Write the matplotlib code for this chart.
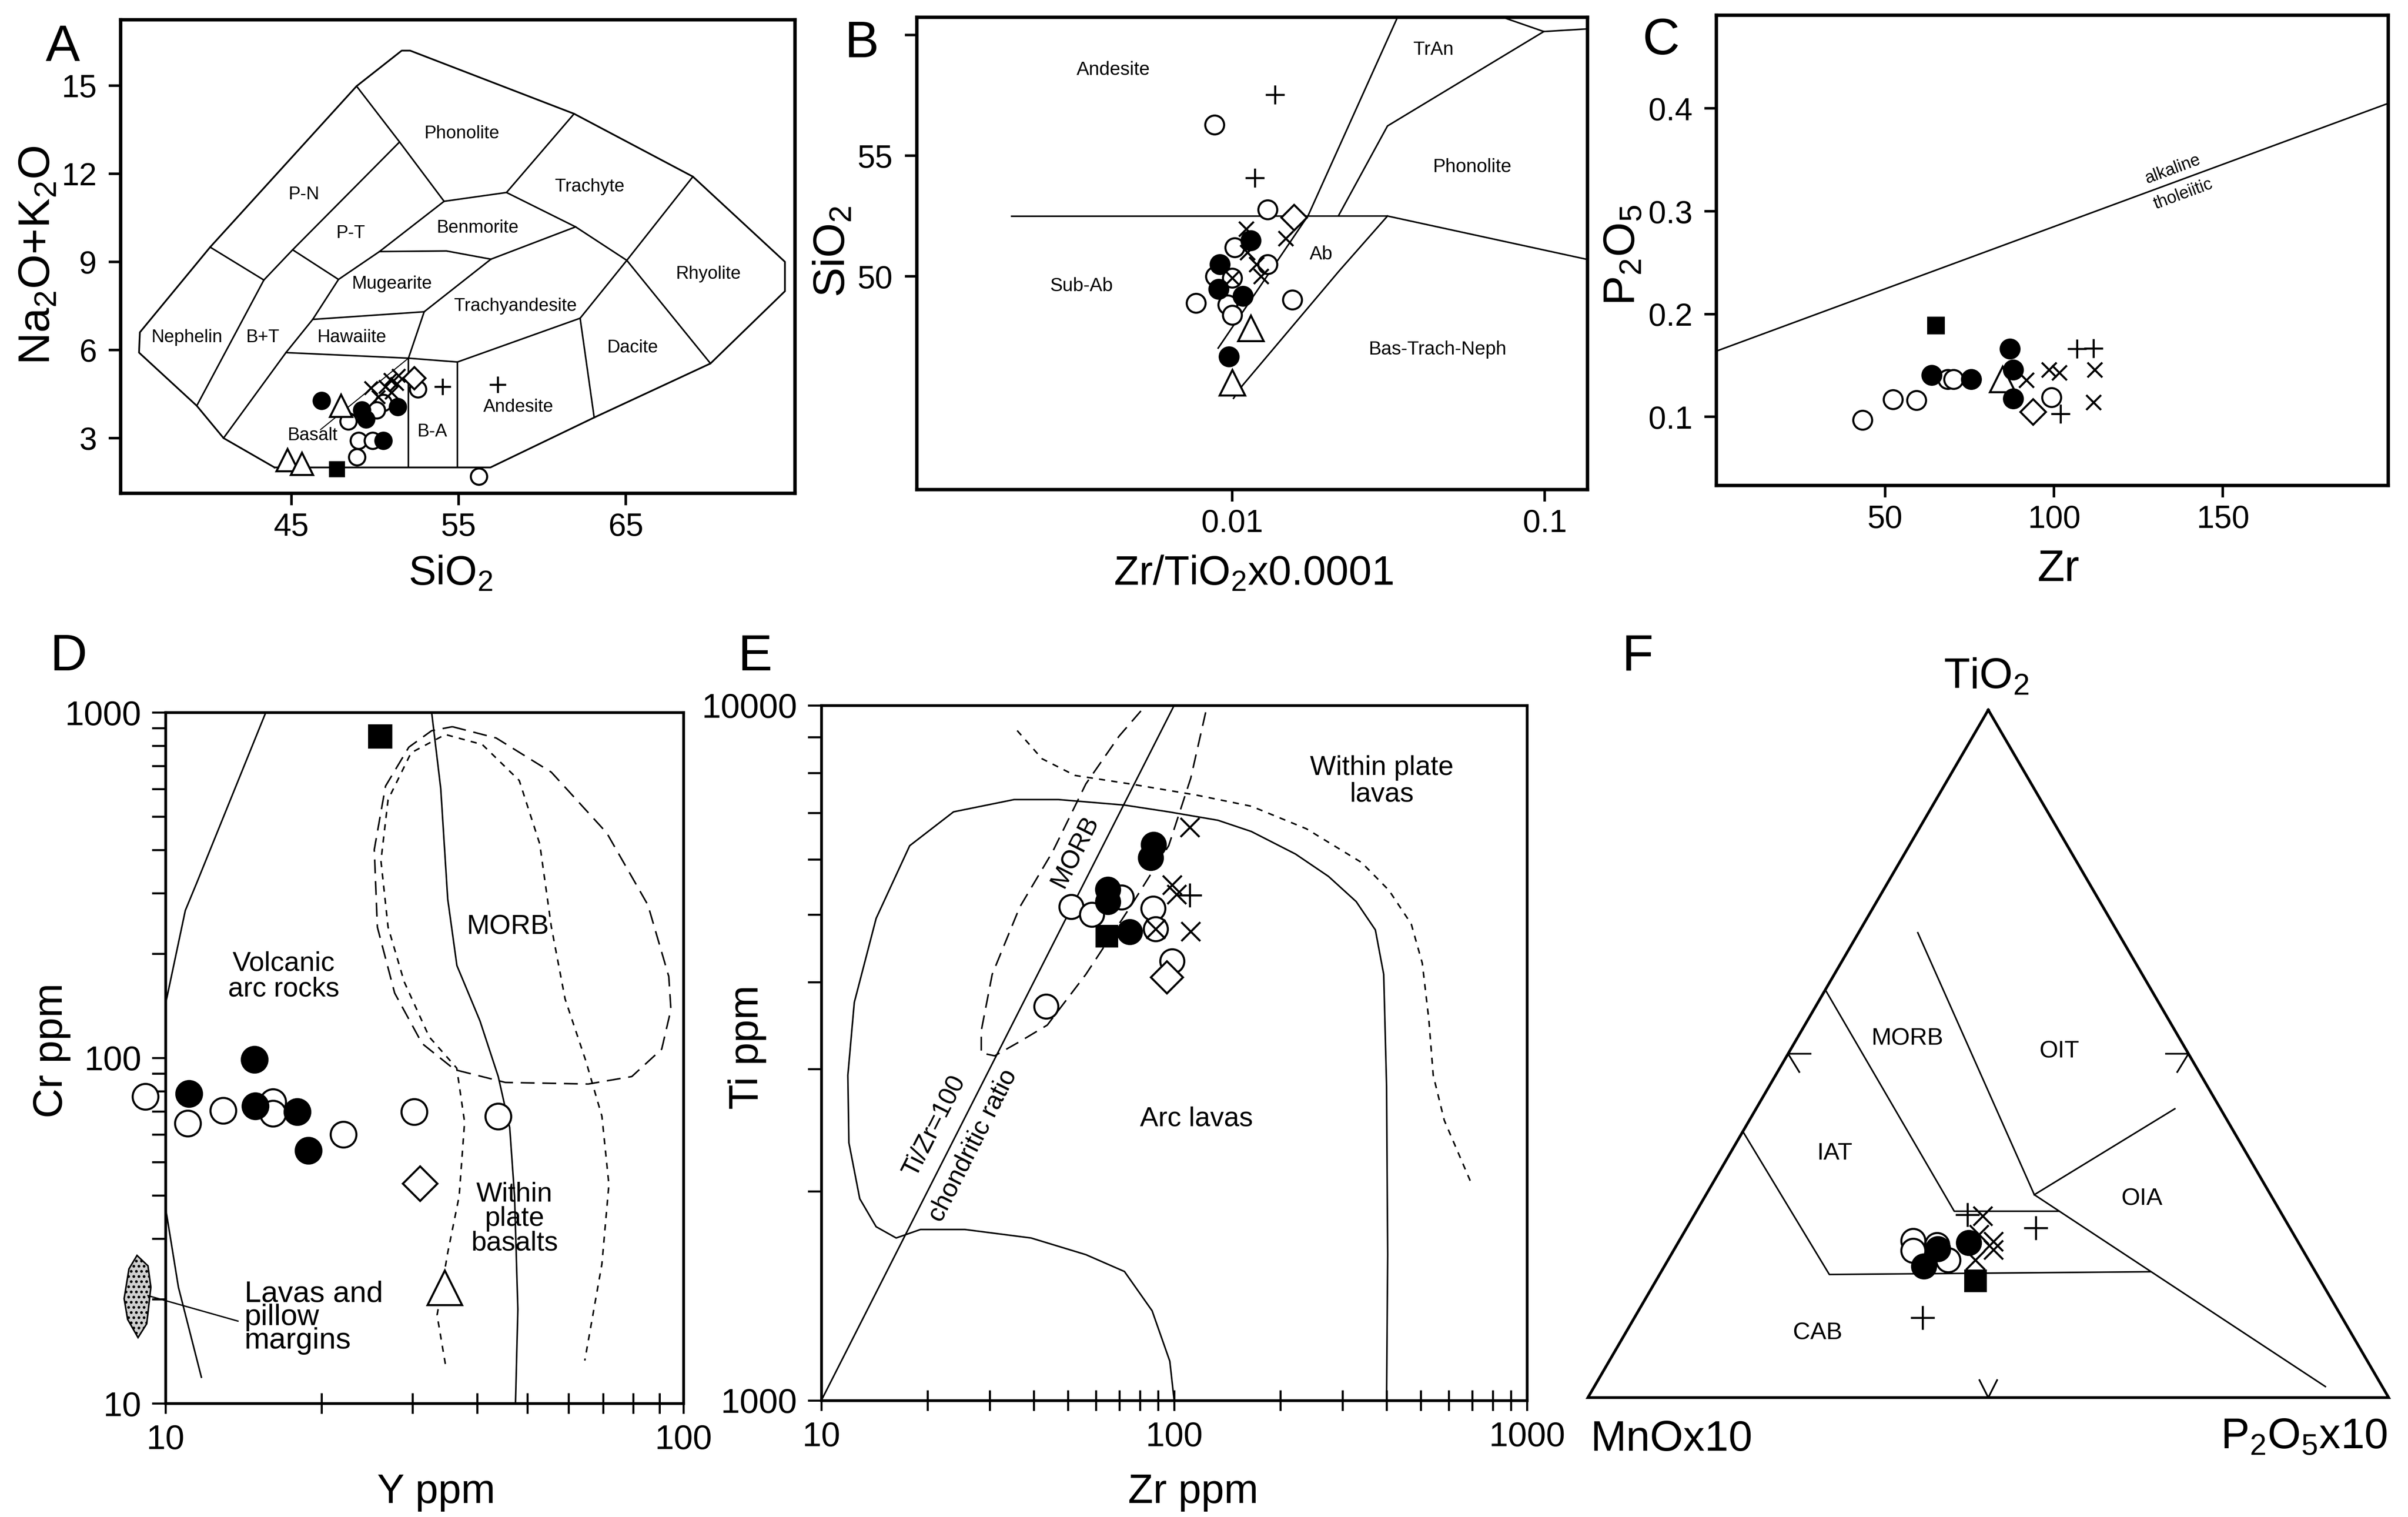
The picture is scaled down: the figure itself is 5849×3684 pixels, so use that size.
import numpy as np
import matplotlib
matplotlib.use('Agg')
import matplotlib.pyplot as plt
from matplotlib.patches import Polygon

plt.rcParams['font.family'] = ['Liberation Sans', 'DejaVu Sans']
plt.rcParams['mathtext.fontset'] = 'custom'
plt.rcParams['mathtext.rm'] = 'Liberation Sans'
plt.rcParams['mathtext.it'] = 'Liberation Sans:italic'
plt.rcParams['mathtext.bf'] = 'Liberation Sans:bold'
plt.rcParams['axes.linewidth'] = 1.6

NARROW = ['Liberation Sans Narrow', 'Liberation Sans']
W, H, DPI = 5849, 3684, 300

# ---------------- A : TAS (SiO2 vs Na2O+K2O) ----------------
a_outline = [(44.0, 2.0), (56.9, 2.0), (63.1, 3.7), (70.05, 5.54), (74.5, 8.0), (74.5, 9.0),
             (69.0, 11.9), (61.9, 14.04), (52.1, 16.19), (51.6, 16.19), (48.9, 14.98),
             (40.15, 9.5), (35.95, 6.6), (35.9, 5.91), (39.35, 4.1), (40.95, 3.0), (44.0, 2.0)]
a_bounds = [
    [(40.15, 9.5), (43.36, 8.38)],
    [(43.36, 8.38), (39.35, 4.1)],
    [(43.36, 8.38), (45.08, 9.41), (51.47, 13.08)],
    [(48.9, 14.98), (51.47, 13.08), (54.13, 11.06)],
    [(45.08, 9.41), (47.82, 8.40), (50.27, 9.35), (54.13, 11.06)],
    [(50.27, 9.35), (54.27, 9.37), (56.93, 9.09)],
    [(54.13, 11.06), (57.86, 11.36), (61.9, 14.04)],
    [(57.86, 11.36), (61.99, 10.19), (65.05, 9.05)],
    [(61.99, 10.19), (56.93, 9.09), (52.94, 7.30), (52.0, 5.72)],
    [(46.28, 7.04), (52.94, 7.30)],
    [(47.82, 8.40), (46.28, 7.04), (44.68, 5.91), (40.95, 3.0)],
    [(44.68, 5.91), (52.0, 5.72), (54.93, 5.59), (62.26, 7.08), (65.05, 9.05), (69.0, 11.9)],
    [(52.0, 5.72), (52.0, 2.0)],
    [(54.93, 5.59), (54.93, 2.0)],
    [(62.26, 7.08), (63.1, 3.7)],
    [(65.05, 9.05), (70.05, 5.54)],
]
a_divide = [(46.75, 3.29), (52.0, 5.72)]
a_fields = ['Phonolite', 'P-N', 'Trachyte', 'P-T', 'Benmorite', 'Rhyolite', 'Mugearite',
            'Trachyandesite', 'Nephelin', 'B+T', 'Hawaiite', 'Dacite', 'Andesite', 'B-A', 'Basalt']
a_field_x = [55.2, 45.75, 62.84, 48.54, 56.13, 69.93, 51.02, 58.4, 38.77, 43.3, 48.62, 65.4, 58.58, 53.42, 46.28]
a_field_y = [13.36, 11.29, 11.55, 9.97, 10.15, 8.59, 8.25, 7.49, 6.43, 6.43, 6.43, 6.08, 4.06, 3.22, 3.09]

a_open_x = [48.40, 49.03, 48.93, 49.85, 56.21, 52.57, 50.5, 50.1]
a_open_y = [3.57, 2.91, 2.35, 2.91, 1.69, 4.66, 4.2, 3.95]
a_filled_x = [46.8, 49.22, 49.47, 51.36, 50.49]
a_filled_y = [4.28, 3.95, 3.64, 4.07, 2.91]
a_tri_x = [47.96, 44.76, 45.63]
a_tri_y = [4.11, 2.25, 2.13]
a_square_x = [47.72]
a_square_y = [1.95]
a_diamond_x = [52.33]
a_diamond_y = [5.04]
a_plus_x = [54.03, 57.33]
a_plus_y = [4.75, 4.82]
a_cross_x = [49.76, 50.63, 50.92, 51.31, 51.41, 50.2, 51.0]
a_cross_y = [4.71, 4.75, 4.99, 4.85, 5.13, 4.4, 4.55]

# ---------------- B : Zr/TiO2 vs SiO2 ----------------
b_bounds = [
    [(0.00197, 52.49), (0.0314, 52.5), (0.137, 50.7)],
    [(0.00902, 47.03), (0.0175, 52.52), (0.0338, 60.73)],
    [(0.0101, 44.95), (0.0108, 45.49), (0.022, 50.23), (0.0314, 52.5)],
    [(0.0219, 52.52), (0.0314, 56.23), (0.0993, 60.14)],
    [(0.0734, 60.73), (0.0993, 60.14), (0.137, 60.25)],
]
b_fields = ['Andesite', 'TrAn', 'Phonolite', 'Ab', 'Sub-Ab', 'Bas-Trach-Neph']
b_field_x = [0.00417, 0.0441, 0.0585, 0.01923, 0.0033, 0.0454]
b_field_y = [58.55, 59.38, 54.53, 50.9, 49.6, 46.96]

b_open_x = [0.00877, 0.01297, 0.01018, 0.01297, 0.00884, 0.00766, 0.00968, 0.01, 0.01556, 0.01]
b_open_y = [56.28, 52.76, 51.2, 50.5, 50.0, 48.9, 48.83, 48.4, 49.04, 49.94]
b_filled_x = [0.01146, 0.00912, 0.00906, 0.01082, 0.00977]
b_filled_y = [51.48, 50.5, 49.47, 49.18, 46.68]
b_tri_x = [0.01148, 0.01]
b_tri_y = [47.86, 45.6]
b_diamond_x = [0.01574]
b_diamond_y = [52.45]
b_plus_x = [0.0118, 0.01371]
b_plus_y = [54.08, 57.53]
b_cross_x = [0.01483, 0.0111, 0.01197, 0.01235, 0.0112, 0.01]
b_cross_y = [51.58, 51.96, 50.5, 50.01, 51.0, 49.94]

# ---------------- C : Zr vs P2O5 ----------------
c_line_x = [0, 199]
c_line_y = [0.164, 0.405]
c_open_x = [68.5, 70.2, 52.3, 59.3, 43.3, 99.3]
c_open_y = [0.1365, 0.1365, 0.117, 0.1163, 0.0968, 0.119]
c_filled_x = [63.77, 75.5, 87.0, 87.9, 87.9]
c_filled_y = [0.1405, 0.1365, 0.1661, 0.1459, 0.1177]
c_square_x = [65.05]
c_square_y = [0.1892]
c_tri_x = [84.8]
c_tri_y = [0.1365]
c_diamond_x = [93.8]
c_diamond_y = [0.1049]
c_plus_x = [106.8, 111.7, 101.9]
c_plus_y = [0.1661, 0.1667, 0.1028]
c_cross_x = [91.8, 98.5, 101.6, 112.0, 111.7]
c_cross_y = [0.1358, 0.1459, 0.1432, 0.1459, 0.1143]

# ---------------- D : Y vs Cr ----------------
d_vab_upper = [(15.62, 1000), (11.49, 321), (10.92, 267), (10.0, 143)]
d_vab_lower = [(10.0, 36.9), (10.59, 21.7), (11.73, 11.9)]
d_morb_wpb = [(32.65, 1000), (34.0, 601), (35.07, 288), (36.53, 185), (40.47, 128), (43.9, 88.3),
              (46.2, 62.8), (47.2, 39.8), (47.9, 18.7), (47.4, 10)]
d_wpb_dash = [(34.7, 13.0), (33.45, 18.0), (35.07, 27.3), (36.9, 39.8), (37.8, 65.2), (36.5, 93.4),
              (32.3, 115), (28.9, 166), (26.9, 239), (26.06, 372), (26.9, 559), (29.8, 764),
              (34.7, 863), (40.9, 807), (48.2, 635), (52.8, 416), (55.6, 239), (59.1, 148),
              (64.8, 98), (69.6, 67.8), (71.8, 43.0), (69.6, 25.3), (64.5, 13.3)]
d_morb_dash = [(35.8, 909), (43.5, 843), (55.6, 671), (71.1, 448), (85.4, 277), (93.7, 172),
               (94.6, 138), (90.8, 106), (79.5, 88.3), (65.5, 84.0), (45.3, 84.9), (36.2, 92.4),
               (31.3, 110), (27.7, 154), (25.65, 239), (25.3, 401), (26.6, 612), (29.5, 793),
               (32.65, 885), (35.8, 909)]
d_blob_y = [8.81, 9.25, 9.37, 9.2, 8.85, 8.45, 8.32, 8.5]
d_blob_cr = [26.8, 25.0, 21.7, 17.0, 15.5, 17.5, 20.1, 24.5]

d_open_x = [9.14, 11.03, 12.91, 16.11, 16.11, 22.03, 30.2, 43.9]
d_open_y = [77.3, 64.7, 70.3, 74.5, 69.0, 60.0, 69.8, 67.8]
d_filled_x = [14.85, 11.1, 14.9, 17.96, 18.86]
d_filled_y = [98.9, 78.8, 72.5, 69.8, 54.0]
d_square_x = [25.96]
d_square_y = [853]
d_diamond_x = [31.0]
d_diamond_y = [43.3]
d_tri_x = [34.6]
d_tri_y = [21.6]

# ---------------- E : Zr vs Ti ----------------
e_ratio_zr = [10, 100]
e_arc = [(100, 1000), (97.2, 1139), (86.6, 1346), (72.3, 1533), (56.2, 1621), (39.3, 1713),
         (25.5, 1762), (19.1, 1762), (16.3, 1713), (14.3, 1778), (12.85, 1951), (11.97, 2349),
         (11.89, 2937), (12.4, 3738), (14.3, 4938), (17.8, 6282), (23.7, 7028), (35.2, 7320),
         (47.0, 7320), (72.3, 7187), (96.5, 7028), (133, 6835), (165.5, 6585), (220.8, 6111),
         (273.8, 5675), (328, 5221), (371.8, 4753), (392.6, 4102), (400, 2829), (402.9, 1621),
         (400, 1000)]
e_wpl_dash = [(35.9, 9199), (42.2, 8381), (52.3, 7930), (75.0, 7709), (115.5, 7430), (165.5, 7160),
              (237, 6645), (339.8, 5942), (406.4, 5418), (469.9, 4847), (505, 4257), (527, 3533),
              (542.4, 2936), (583, 2529), (698, 2044)]
e_morb_dash = [(80.5, 9817), (69.8, 9030), (56.2, 7709), (45.3, 6166), (36.5, 5125), (30.5, 4102),
               (28.4, 3404), (28.4, 3162), (31.0, 3132), (36.5, 3283), (43.7, 3468), (56.2, 4102),
               (75.0, 5125), (96.5, 6282), (111.4, 7852), (124.1, 10000)]

e_open_x = [51.1, 58.5, 70.9, 87.1, 88.7, 98.6, 43.4]
e_open_y = [5130, 4998, 5294, 5107, 4765, 4285, 3690]
e_filled_x = [87.5, 85.9, 64.8, 64.8, 74.9]
e_filled_y = [6310, 6033, 5432, 5219, 4721]
e_square_x = [64.4]
e_square_y = [4656]
e_diamond_x = [95.4]
e_diamond_y = [4064]
e_cross_x = [110.7, 98.6, 101.5, 111.2, 88.7]
e_cross_y = [6677, 5520, 5350, 4730, 4765]
e_plus_x = [110.7]
e_plus_y = [5333]

# ---------------- F : TiO2 - MnOx10 - P2O5x10 (T, M, P) ----------------
f_bounds = [
    [(38.7, 61.3, 0.0), (17.9, 60.9, 21.2), (18.3, 20.6, 61.1)],
    [(29.5, 29.5, 41.0), (1.6, 7.1, 91.3)],
    [(59.3, 40.7, 0.0), (27.1, 40.7, 32.2), (27.1, 27.6, 45.3)],
    [(67.6, 25.0, 7.4), (29.5, 29.5, 41.0)],
    [(29.5, 29.5, 41.0), (42.0, 5.7, 52.3)],
]
f_fields = ['MORB', 'OIT', 'IAT', 'OIA', 'CAB']
f_field_tmp = [(52.2, 34.0, 13.8), (50.3, 16.0, 33.7), (35.5, 51.4, 13.1), (28.9, 16.4, 54.7), (9.4, 66.6, 24.0)]

f_open = [(22.8, 48.0, 29.2), (21.4, 48.7, 29.9), (22.2, 45.3, 32.5), (20.0, 45.0, 35.0)]
f_filled = [(21.6, 45.5, 32.9), (22.5, 41.2, 36.3), (19.1, 48.5, 32.4)]
f_square = [(17.0, 43.1, 39.9)]
f_plus = [(26.6, 39.3, 34.1), (24.7, 31.7, 43.6), (11.6, 52.4, 36.0)]
f_cross = [(26.4, 37.5, 36.1), (23.7, 39.3, 37.0), (22.7, 38.0, 39.3), (21.5, 38.6, 39.9), (20.0, 41.6, 38.4)]


STYLE = {
    'open': dict(marker='o', mfc='white', mec='black'),
    'tri': dict(marker='^', mfc='white', mec='black'),
    'diamond': dict(marker='D', mfc='white', mec='black'),
    'filled': dict(marker='o', mfc='black', mec='black'),
    'square': dict(marker='s', mfc='black', mec='black'),
    'cross': dict(marker='x', mfc='none', mec='black'),
    'plus': dict(marker='+', mfc='none', mec='black'),
}
SCALE = {'open': 1.0, 'tri': 1.35, 'diamond': 0.95, 'filled': 1.0, 'square': 0.85, 'cross': 0.8, 'plus': 1.0}
ORDER = ['open', 'tri', 'diamond', 'filled', 'square', 'cross', 'plus']


def box(l, t, r, b):
    return [l / W, 1 - b / H, (r - l) / W, (b - t) / H]


def symbols(ax, groups, ms):
    for i, kind in enumerate(ORDER):
        if kind not in groups:
            continue
        x, y = groups[kind]
        ax.plot(x, y, ls='none', ms=ms * SCALE[kind], mew=1.2, clip_on=False,
                zorder=5 + i, **STYLE[kind])


def polyline(ax, pts, **kw):
    pts = np.array(pts, dtype=float)
    ax.plot(pts[:, 0], pts[:, 1], color='black', **kw)


def screen_angle(ax, p0, p1):
    (x0, y0), (x1, y1) = ax.transData.transform([p0, p1])
    return np.degrees(np.arctan2(y1 - y0, x1 - x0))


def ylabel_at(fig, text, x, y, size):
    fig.text(x / W, 1 - y / H, text, rotation=90, rotation_mode='anchor',
             ha='center', va='baseline', fontsize=size)


def xlabel_at(fig, text, x, y, size, ha='center'):
    fig.text(x / W, 1 - y / H, text, ha=ha, va='baseline', fontsize=size)


def tern(pts):
    pts = np.array(pts, dtype=float)
    s = pts.sum(axis=1)
    t = pts[:, 0] / s
    p = pts[:, 2] / s
    return p + t / 2, t * np.sqrt(3) / 2


fig = plt.figure(figsize=(W / DPI, H / DPI), dpi=DPI)
fig.patch.set_facecolor('white')

TICK = 18.5
TICK2 = 20
LAB = 24

# ---- A ----
ax = fig.add_axes(box(293, 48, 1931, 1198))
ax.set_xlim(34.8, 75.1)
ax.set_ylim(1.12, 17.24)
polyline(ax, a_outline, lw=1.0)
for seg in a_bounds:
    polyline(ax, seg, lw=0.9)
polyline(ax, a_divide, lw=0.6)
for name, x, y in zip(a_fields, a_field_x, a_field_y):
    ax.text(x, y, name, ha='center', va='center', fontsize=10.5, family=NARROW)
symbols(ax, {'open': (a_open_x, a_open_y), 'filled': (a_filled_x, a_filled_y),
             'tri': (a_tri_x, a_tri_y), 'square': (a_square_x, a_square_y),
             'diamond': (a_diamond_x, a_diamond_y), 'plus': (a_plus_x, a_plus_y),
             'cross': (a_cross_x, a_cross_y)}, 9.5)
ax.set_xticks([45, 55, 65])
ax.set_yticks([3, 6, 9, 12, 15])
ax.tick_params(direction='out', length=7, width=1.5, labelsize=TICK, pad=4)
ax.tick_params(axis='y', pad=7)
for s in ax.spines.values():
    s.set_linewidth(2.0)
ylabel_at(fig, r'Na$_2$O+K$_2$O', 121, 620, LAB + 2)
xlabel_at(fig, r'SiO$_2$', 1095, 1420, LAB)
fig.text(152 / W, 1 - 148 / H, 'A', ha='center', va='baseline', fontsize=30)

# ---- B ----
ax = fig.add_axes(box(2227, 42, 3856, 1189))
ax.set_xscale('log')
ax.set_xlim(0.00098, 0.137)
ax.set_ylim(41.17, 60.73)
for seg in b_bounds:
    polyline(ax, seg, lw=0.9)
for name, x, y in zip(b_fields, b_field_x, b_field_y):
    ax.text(x, y, name, ha='center', va='center', fontsize=11, family=NARROW)
symbols(ax, {'open': (b_open_x, b_open_y), 'filled': (b_filled_x, b_filled_y),
             'tri': (b_tri_x, b_tri_y), 'diamond': (b_diamond_x, b_diamond_y),
             'plus': (b_plus_x, b_plus_y), 'cross': (b_cross_x, b_cross_y)}, 11)
ax.set_xticks([0.01, 0.1])
ax.set_xticklabels(['0.01', '0.1'])
ax.xaxis.set_minor_locator(matplotlib.ticker.NullLocator())
ax.set_yticks([50, 55, 60])
ax.set_yticklabels(['50', '55', ''])
ax.tick_params(direction='out', length=7, width=1.5, labelsize=TICK, pad=4)
ax.tick_params(axis='y', pad=7)
for s in ax.spines.values():
    s.set_linewidth(2.0)
ylabel_at(fig, r'SiO$_2$', 2052, 611, LAB + 2)
xlabel_at(fig, r'Zr/TiO$_2$x0.0001', 3044, 1420, LAB)
fig.text(2093 / W, 1 - 139 / H, 'B', ha='center', va='baseline', fontsize=30)

# ---- C ----
ax = fig.add_axes(box(4169, 37, 5801, 1179))
ax.set_xlim(0, 199)
ax.set_ylim(0.0333, 0.4907)
ax.plot(c_line_x, c_line_y, color='black', lw=0.9)
ang = screen_angle(ax, (c_line_x[0], c_line_y[0]), (c_line_x[1], c_line_y[1]))
ax.text(135.2, 0.3407, 'alkaline', rotation=ang, ha='center', va='center', fontsize=10,
        family=NARROW, rotation_mode='anchor')
ax.text(138.3, 0.3167, 'tholeiitic', rotation=ang, ha='center', va='center', fontsize=10,
        family=NARROW, rotation_mode='anchor')
symbols(ax, {'open': (c_open_x, c_open_y), 'filled': (c_filled_x, c_filled_y),
             'tri': (c_tri_x, c_tri_y), 'square': (c_square_x, c_square_y),
             'diamond': (c_diamond_x, c_diamond_y), 'plus': (c_plus_x, c_plus_y),
             'cross': (c_cross_x, c_cross_y)}, 11)
ax.set_xticks([50, 100, 150])
ax.set_yticks([0.1, 0.2, 0.3, 0.4])
ax.tick_params(direction='out', length=7, width=1.5, labelsize=TICK, pad=4)
ax.tick_params(axis='y', pad=7)
for s in ax.spines.values():
    s.set_linewidth(2.0)
ylabel_at(fig, r'P$_2$O$_5$', 3971, 620, LAB + 2)
xlabel_at(fig, 'Zr', 5000, 1411, LAB + 2)
fig.text(4035 / W, 1 - 132 / H, 'C', ha='center', va='baseline', fontsize=30)

# ---- D ----
ax = fig.add_axes(box(402, 1730, 1660, 3408))
ax.set_xscale('log')
ax.set_yscale('log')
ax.set_xlim(10, 100)
ax.set_ylim(10, 1000)
polyline(ax, d_vab_upper, lw=0.9)
polyline(ax, d_vab_lower, lw=0.9)
polyline(ax, d_morb_wpb, lw=0.9)
polyline(ax, d_wpb_dash, lw=0.9, dashes=(4, 4))
polyline(ax, d_morb_dash, lw=0.9, dashes=(9, 5))
ax.add_patch(Polygon(np.column_stack([d_blob_y, d_blob_cr]), closed=True, facecolor='#cfcfcf',
                     edgecolor='black', lw=0.9, clip_on=False, hatch='....'))
ax.plot([9.25, 13.8], [20.5, 17.3], color='black', lw=0.8, clip_on=False)
ax.text(16.9, 172, 'Volcanic\narc rocks', ha='center', va='center', fontsize=16, linespacing=1.0)
ax.text(45.8, 239, 'MORB', ha='center', va='center', fontsize=16)
ax.text(47.2, 34.2, 'Within\nplate\nbasalts', ha='center', va='center', fontsize=16, linespacing=0.95)
ax.text(14.2, 17.7, 'Lavas and\npillow\nmargins', ha='left', va='center', fontsize=17.5, linespacing=0.8)
symbols(ax, {'open': (d_open_x, d_open_y), 'filled': (d_filled_x, d_filled_y),
             'tri': (d_tri_x, d_tri_y), 'square': (d_square_x, d_square_y),
             'diamond': (d_diamond_x, d_diamond_y)}, 15)
ax.xaxis.set_major_locator(matplotlib.ticker.FixedLocator([10, 100]))
ax.xaxis.set_major_formatter(matplotlib.ticker.FixedFormatter(['10', '100']))
ax.xaxis.set_minor_locator(matplotlib.ticker.FixedLocator([k * 10 for k in range(2, 10)]))
ax.xaxis.set_minor_formatter(matplotlib.ticker.NullFormatter())
ax.yaxis.set_major_locator(matplotlib.ticker.FixedLocator([10, 100, 1000]))
ax.yaxis.set_major_formatter(matplotlib.ticker.FixedFormatter(['10', '100', '1000']))
ax.yaxis.set_minor_locator(matplotlib.ticker.FixedLocator([k * 10 ** e for e in (1, 2) for k in range(2, 10)]))
ax.yaxis.set_minor_formatter(matplotlib.ticker.NullFormatter())
ax.tick_params(which='both', direction='out', length=8, width=1.2, labelsize=TICK2, pad=6)
ax.tick_params(axis='x', which='both', direction='inout', length=12)
ylabel_at(fig, 'Cr ppm', 151, 2551, LAB)
xlabel_at(fig, 'Y ppm', 1060, 3650, LAB)
fig.text(167 / W, 1 - 1628 / H, 'D', ha='center', va='baseline', fontsize=30)

# ---- E ----
ax = fig.add_axes(box(1995, 1713, 3709, 3401))
ax.set_xscale('log')
ax.set_yscale('log')
ax.set_xlim(10, 1000)
ax.set_ylim(1000, 10000)
e_ratio_ti = [100 * z for z in e_ratio_zr]
ax.plot(e_ratio_zr, e_ratio_ti, color='black', lw=0.9)
polyline(ax, e_arc, lw=0.9)
polyline(ax, e_wpl_dash, lw=0.9, dashes=(4, 4))
polyline(ax, e_morb_dash, lw=0.9, dashes=(9, 5))
ang = screen_angle(ax, (e_ratio_zr[0], e_ratio_ti[0]), (e_ratio_zr[1], e_ratio_ti[1]))
ax.text(20.9, 2483, 'Ti/Zr=100', rotation=ang, ha='center', va='center', fontsize=15,
        family=NARROW, rotation_mode='anchor')
ax.text(26.9, 2328, 'chondritic ratio', rotation=ang, ha='center', va='center', fontsize=15,
        family=NARROW, rotation_mode='anchor')
ax.text(52.3, 6166, 'MORB', rotation=ang, ha='center', va='center', fontsize=15,
        family=NARROW, rotation_mode='anchor')
ax.text(388, 7780, 'Within plate\nlavas', ha='center', va='center', fontsize=16, family=NARROW,
        linespacing=1.05)
ax.text(115.5, 2541, 'Arc lavas', ha='center', va='center', fontsize=16, family=NARROW)
symbols(ax, {'open': (e_open_x, e_open_y), 'filled': (e_filled_x, e_filled_y),
             'square': (e_square_x, e_square_y), 'diamond': (e_diamond_x, e_diamond_y),
             'plus': (e_plus_x, e_plus_y), 'cross': (e_cross_x, e_cross_y)}, 14)
ax.xaxis.set_major_locator(matplotlib.ticker.FixedLocator([10, 100, 1000]))
ax.xaxis.set_major_formatter(matplotlib.ticker.FixedFormatter(['10', '100', '1000']))
ax.xaxis.set_minor_locator(matplotlib.ticker.FixedLocator([k * 10 ** e for e in (1, 2) for k in range(2, 10)]))
ax.xaxis.set_minor_formatter(matplotlib.ticker.NullFormatter())
ax.yaxis.set_major_locator(matplotlib.ticker.FixedLocator([1000, 10000]))
ax.yaxis.set_major_formatter(matplotlib.ticker.FixedFormatter(['1000', '10000']))
ax.yaxis.set_minor_locator(matplotlib.ticker.FixedLocator([k * 1000 for k in range(2, 10)]))
ax.yaxis.set_minor_formatter(matplotlib.ticker.NullFormatter())
ax.tick_params(which='both', direction='out', length=8, width=1.2, labelsize=TICK2, pad=6)
ax.tick_params(axis='x', which='both', direction='inout', length=12)
ylabel_at(fig, 'Ti ppm', 1841, 2543, LAB)
xlabel_at(fig, 'Zr ppm', 2898, 3650, LAB)
fig.text(1834 / W, 1 - 1628 / H, 'E', ha='center', va='baseline', fontsize=30)

# ---- F ----
ax = fig.add_axes(box(3857, 1724, 5802, 3394))
ax.set_xlim(0, 1)
ax.set_ylim(0, np.sqrt(3) / 2)
ax.axis('off')
tx, ty = tern([(100, 0, 0), (0, 100, 0), (0, 0, 100), (100, 0, 0)])
ax.plot(tx, ty, color='black', lw=1.6, clip_on=False, solid_joinstyle='miter')
for seg in f_bounds:
    sx, sy = tern(seg)
    ax.plot(sx, sy, color='black', lw=0.9)
for name, pt in zip(f_fields, f_field_tmp):
    lx, ly = tern([pt])
    ax.text(lx[0], ly[0], name, ha='center', va='center', fontsize=14, family=NARROW)
# small arrow marks at the 50 % points of each side
h = np.sqrt(3) / 2
ax.plot([0.25 + 0.028, 0.25, 0.25 + 0.014], [h / 2, h / 2, h / 2 - 0.023], color='black', lw=1.0)
ax.plot([0.75 - 0.028, 0.75, 0.75 - 0.014], [h / 2, h / 2, h / 2 - 0.023], color='black', lw=1.0)
ax.plot([0.489, 0.5, 0.511], [0.022, 0.0, 0.022], color='black', lw=1.0)
groups = {}
for kind, pts in [('open', f_open), ('filled', f_filled), ('square', f_square),
                  ('plus', f_plus), ('cross', f_cross)]:
    groups[kind] = tern(pts)
symbols(ax, groups, 14)
xlabel_at(fig, r'TiO$_2$', 4825, 1672, LAB + 1)
xlabel_at(fig, 'MnOx10', 3864, 3523, LAB + 1, ha='left')
xlabel_at(fig, r'P$_2$O$_5$x10', 5799, 3517, LAB + 1, ha='right')
fig.text(3978 / W, 1 - 1628 / H, 'F', ha='center', va='baseline', fontsize=30)

fig.savefig('out.png', dpi=DPI, facecolor='white')
